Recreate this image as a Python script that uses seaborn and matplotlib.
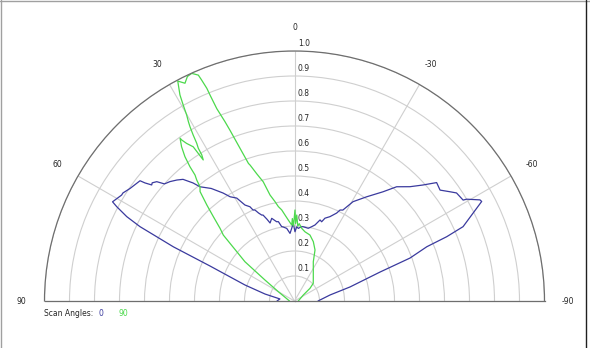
import numpy as np
import matplotlib
matplotlib.use("Agg")
import matplotlib.pyplot as plt
import seaborn as sns
import pandas as pd
from matplotlib.lines import Line2D

sns.set_theme(style="white")
plt.rcParams['font.family'] = ['DejaVu Sans']

# ---- data (angle in degrees, normalized amplitude) ----
scan0_theta = [90, 82, 76.7, 72.1, 67.5, 65.9, 65.0, 64.3, 63.3, 62.05, 61.4, 58.5, 57.8, 55.6,
               52.1, 51.7, 50.9, 50.3, 49.1, 48.0, 46.2, 44.2, 42.5, 40.7, 39.6, 36.5, 33.5, 31.7,
               29.3, 27.3, 25.3, 24.5, 23.5, 22.2, 20.9, 20.1, 18.6, 17.4, 15.4, 12.7, 11.5, 9.8,
               8.8, 6.1, 3.8, 2.2, 0.9, -0.4, -1.7, -3.0, -5.5, -6.8, -10.7, -13.0, -15.1, -17.5,
               -18.9, -20.2, -22.8, -25.6, -26.6, -28.0, -30.5, -34.7, -39.0, -41.8, -45.3, -47.9,
               -50.2, -52.7, -54.9, -56.3, -59.1, -59.4, -61.4, -62.0, -63.8, -66.2, -67.1, -67.7,
               -69.6, -71.3, -75.8, -80.4, -90]
scan0_r = [0.07, 0.059, 0.121, 0.208, 0.366, 0.531, 0.608, 0.686, 0.751, 0.805, 0.829, 0.811, 0.811, 0.797,
           0.783, 0.762, 0.736, 0.74, 0.729, 0.70, 0.69, 0.675, 0.66, 0.623, 0.593, 0.56, 0.518, 0.49,
           0.472, 0.432, 0.417, 0.40, 0.397, 0.38, 0.368, 0.366, 0.345, 0.327, 0.343, 0.325, 0.324, 0.302,
           0.30, 0.292, 0.271, 0.291, 0.311, 0.277, 0.297, 0.291, 0.299, 0.299, 0.296, 0.305, 0.315, 0.34,
           0.335, 0.353, 0.366, 0.39, 0.407, 0.412, 0.461, 0.507, 0.562, 0.613, 0.65, 0.692,
           0.74, 0.732, 0.76, 0.779, 0.786, 0.80, 0.845, 0.848, 0.796, 0.737, 0.661, 0.572,
           0.493, 0.361, 0.229, 0.144, 0.094]

scan90_theta = [-90, -55.7, -50.7, -46.7, -39.6, -25.6, -21.9, -17.6, -13.2, -8.6, -5.7, -3.5, -2.5,
                -1.5, -0.8, -0.3, 0.8, 1.5, 2.1, 4.4, 6.3, 8.0, 9.7, 11.1, 13.0, 14.7, 16.5, 18.1,
                18.5, 19.8, 20.7, 21.2, 22.0, 22.3, 22.4, 22.8, 23.06, 24.3, 25.5, 26.7, 27.96,
                29.07, 29.6, 30.1, 30.6, 30.95, 31.4, 31.8, 32.2, 32.4, 32.9, 33.3, 34.4, 35.0,
                35.1, 36.2, 37.2, 37.9, 38.3, 38.95, 39.6, 40.8, 42.4, 43.9, 45.7, 47.2, 51.6,
                54.6, 60.0, 90]
scan90_r = [0.015, 0.043, 0.08, 0.103, 0.118, 0.174, 0.22, 0.249, 0.271, 0.28, 0.292, 0.31, 0.30,
            0.344, 0.31, 0.364, 0.30, 0.33, 0.304, 0.325, 0.346, 0.368, 0.383, 0.405, 0.435, 0.493, 0.53, 0.572,
            0.58, 0.66, 0.73, 0.77, 0.83, 0.89, 0.92, 0.959, 0.982, 0.999, 0.995, 0.975, 0.996,
            0.943, 0.901, 0.86, 0.834, 0.813, 0.778, 0.742, 0.722, 0.692, 0.672, 0.738, 0.764, 0.786,
            0.796, 0.765, 0.725, 0.681, 0.642, 0.622, 0.593, 0.578, 0.52, 0.468, 0.416, 0.388, 0.253,
            0.145, 0.075, 0.02]

theta_ticks = [-90, -60, -30, 0, 30, 60, 90]
theta_labels = ["-90", "-60", "-30", "0", "30", "60", "90"]
r_ticks = [0.1, 0.2, 0.3, 0.4, 0.5, 0.6, 0.7, 0.8, 0.9, 1.0]
r_labels = ["0.1", "0.2", "0.3", "0.4", "0.5", "0.6", "0.7", "0.8", "0.9", "1.0"]
scan_names = ["0", "90"]
scan_colors = ["#3a3a9e", "#4cd94c"]

W, H = 590, 348
fig = plt.figure(figsize=(W / 100, H / 100), dpi=100)
fig.patch.set_facecolor("white")
# square box: the half-disk is centred vertically inside it
ax = fig.add_axes([44.5 / W, (47 - 125) / H, 500 / W, 500 / H], projection="polar")
ax.set_theta_zero_location("N")
ax.set_theta_direction(1)
ax.set_thetamin(-90)
ax.set_thetamax(90)
ax.set_ylim(0, 1.0)

df0 = pd.DataFrame({"theta": np.deg2rad(scan0_theta), "r": scan0_r})
df90 = pd.DataFrame({"theta": np.deg2rad(scan90_theta), "r": scan90_r})
sns.lineplot(data=df0, x="theta", y="r", sort=False, color=scan_colors[0], lw=0.9, ax=ax)
sns.lineplot(data=df90, x="theta", y="r", sort=False, color=scan_colors[1], lw=0.9, ax=ax)
ax.set_xlabel("")
ax.set_ylabel("")

ax.set_thetagrids(theta_ticks, theta_labels, fontsize=5.5)
ax.set_rgrids(r_ticks, [""] * len(r_ticks))
ax.tick_params(axis="x", pad=4)
ax.grid(True, color="#cfcfcf", lw=0.8)
for name, sp in ax.spines.items():
    sp.set_color("#6e6e6e")
    sp.set_linewidth(0.9)

# radial value labels along the 0 degree spoke
for rv, lab in zip(r_ticks, r_labels):
    ax.annotate(lab, xy=(0, rv), xytext=(2.5, 2), textcoords="offset points",
                ha="left", va="bottom", fontsize=5.5, annotation_clip=False)

# legend row
fig.text(44 / W, 1 - 313 / H, "Scan Angles:", fontsize=5.5, va="center", ha="left")
fig.text(101 / W, 1 - 313 / H, scan_names[0], fontsize=5.5, va="center", ha="center", color=scan_colors[0])
fig.text(123 / W, 1 - 313 / H, scan_names[1], fontsize=5.5, va="center", ha="center", color=scan_colors[1])

# frame
fig.add_artist(Line2D([0.5 / W, 0.5 / W], [0, 1], color="#a0a0a0", lw=1, transform=fig.transFigure))
fig.add_artist(Line2D([0, 1], [1 - 0.5 / H, 1 - 0.5 / H], color="#a0a0a0", lw=1, transform=fig.transFigure))
fig.add_artist(Line2D([586 / W, 586 / W], [0, 1], color="#202020", lw=1, transform=fig.transFigure))

fig.savefig("out.png", dpi=100, facecolor="white")
